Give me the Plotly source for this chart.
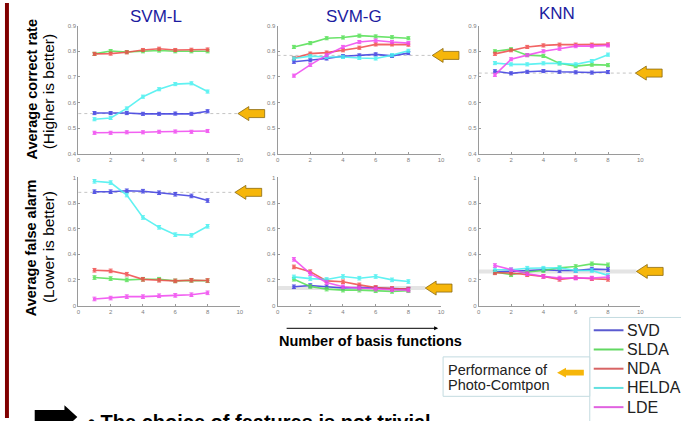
import plotly.graph_objects as go

W, H = 681, 421

x_vals = [1, 2, 3, 4, 5, 6, 7, 8]
methods = ["SVD", "SLDA", "NDA", "HELDA", "LDE"]
colors = {"SVD": "#3c3ce0", "SLDA": "#52e052", "NDA": "#f04a4a",
          "HELDA": "#45f0f0", "LDE": "#f046f0"}
legend_colors = {"SVD": "#5a5ad0", "SLDA": "#62d862", "NDA": "#d86464",
                 "HELDA": "#62e0e0", "LDE": "#e062e0"}

classifiers = ["SVM-L", "SVM-G", "KNN"]

# Average correct rate (top row)
svml_correct = {
    "SVD":   [0.559, 0.559, 0.559, 0.556, 0.556, 0.557, 0.556, 0.566],
    "SLDA":  [0.790, 0.801, 0.797, 0.800, 0.803, 0.800, 0.800, 0.800],
    "NDA":   [0.790, 0.791, 0.796, 0.805, 0.810, 0.805, 0.806, 0.807],
    "HELDA": [0.535, 0.540, 0.577, 0.623, 0.652, 0.672, 0.675, 0.643],
    "LDE":   [0.482, 0.482, 0.484, 0.484, 0.486, 0.487, 0.486, 0.489],
}
svmg_correct = {
    "SVD":   [0.759, 0.765, 0.772, 0.781, 0.784, 0.788, 0.782, 0.793],
    "SLDA":  [0.817, 0.832, 0.851, 0.854, 0.861, 0.858, 0.855, 0.851],
    "NDA":   [0.774, 0.791, 0.795, 0.804, 0.814, 0.827, 0.827, 0.826],
    "HELDA": [0.772, 0.781, 0.778, 0.778, 0.774, 0.772, 0.785, 0.802],
    "LDE":   [0.705, 0.747, 0.785, 0.817, 0.836, 0.842, 0.836, 0.832],
}
knn_correct = {
    "SVD":   [0.722, 0.714, 0.720, 0.723, 0.720, 0.718, 0.717, 0.719],
    "SLDA":  [0.800, 0.808, 0.785, 0.782, 0.753, 0.742, 0.748, 0.746],
    "NDA":   [0.790, 0.804, 0.817, 0.823, 0.826, 0.826, 0.826, 0.827],
    "HELDA": [0.754, 0.749, 0.749, 0.753, 0.753, 0.749, 0.762, 0.787],
    "LDE":   [0.708, 0.769, 0.785, 0.800, 0.810, 0.820, 0.820, 0.823],
}

# Average false alarm (bottom row)
svml_false = {
    "SVD":   [0.889, 0.889, 0.896, 0.893, 0.881, 0.869, 0.856, 0.820],
    "SLDA":  [0.219, 0.211, 0.201, 0.206, 0.206, 0.193, 0.197, 0.194],
    "NDA":   [0.276, 0.271, 0.245, 0.205, 0.198, 0.193, 0.198, 0.196],
    "HELDA": [0.970, 0.960, 0.863, 0.688, 0.611, 0.554, 0.549, 0.619],
    "LDE":   [0.052, 0.059, 0.070, 0.070, 0.077, 0.080, 0.085, 0.100],
}
svmg_false = {
    "SVD":   [0.147, 0.157, 0.147, 0.137, 0.142, 0.137, 0.129, 0.129],
    "SLDA":  [0.206, 0.149, 0.129, 0.121, 0.121, 0.116, 0.111, 0.116],
    "NDA":   [0.302, 0.265, 0.193, 0.186, 0.162, 0.142, 0.134, 0.129],
    "HELDA": [0.224, 0.211, 0.204, 0.227, 0.214, 0.227, 0.201, 0.188],
    "LDE":   [0.361, 0.250, 0.180, 0.147, 0.137, 0.129, 0.124, 0.121],
}
knn_false = {
    "SVD":   [0.262, 0.269, 0.274, 0.280, 0.274, 0.274, 0.285, 0.282],
    "SLDA":  [0.262, 0.241, 0.262, 0.274, 0.295, 0.305, 0.326, 0.318],
    "NDA":   [0.256, 0.254, 0.241, 0.228, 0.205, 0.218, 0.210, 0.205],
    "HELDA": [0.280, 0.280, 0.292, 0.292, 0.295, 0.274, 0.274, 0.236],
    "LDE":   [0.313, 0.280, 0.249, 0.228, 0.215, 0.215, 0.215, 0.223],
}

# Photo-Compton reference performance per panel
photo_compton_correct = [0.557, 0.784, 0.715]
photo_compton_false = [0.884, 0.137, 0.267]

x_ticks = [0, 2, 4, 6, 8, 10]
top_y_ticks = [0.4, 0.5, 0.6, 0.7, 0.8, 0.9]
bottom_y_ticks = [0, 0.2, 0.4, 0.6, 0.8, 1]
bottom_y_ticktext = ["0", "0.2", "0.4", "0.6", "0.8", "1"]

# ---------------------------------------------------------------
def px(x):
    return x / W


def py(y):
    return 1 - y / H


col_px = [(77, 240), (278, 443), (481, 644)]
row_px = [(23, 153), (177, 307)]

panels = [svml_correct, svmg_correct, knn_correct,
          svml_false, svmg_false, knn_false]
refs = photo_compton_correct + photo_compton_false

fig = go.Figure()
layout = dict()

FONT = "Liberation Sans"
axis_common = dict(showgrid=False, zeroline=False, showline=True,
                   linecolor="#9a9a9a", linewidth=1, ticks="inside",
                   ticklen=2, tickcolor="#9a9a9a",
                   tickfont=dict(size=6, color="#808080", family=FONT))

for i, panel in enumerate(panels):
    r, c = divmod(i, 3)
    n = i + 1
    xa = "x" if n == 1 else f"x{n}"
    ya = "y" if n == 1 else f"y{n}"
    xk = "xaxis" if n == 1 else f"xaxis{n}"
    yk = "yaxis" if n == 1 else f"yaxis{n}"
    x0p, x1p = col_px[c]
    y0p, y1p = row_px[r]
    layout[xk] = dict(axis_common, domain=[px(x0p), px(x1p)], anchor=ya,
                      range=[0, 10], tickvals=x_ticks)
    if r == 0:
        layout[yk] = dict(axis_common, domain=[py(y1p), py(y0p)], anchor=xa,
                          range=[0.4, 0.9], tickvals=top_y_ticks,
                          tickformat=".1f")
        err = 0.006
    else:
        layout[yk] = dict(axis_common, domain=[py(y1p), py(y0p)], anchor=xa,
                          range=[0, 1], tickvals=bottom_y_ticks,
                          ticktext=bottom_y_ticktext)
        err = 0.014
    for m in methods:
        fig.add_trace(go.Scatter(
            x=x_vals, y=panel[m], xaxis=xa, yaxis=ya, mode="lines+markers",
            line=dict(color=colors[m], width=1.6),
            marker=dict(size=3.5, color=colors[m]),
            error_y=dict(type="constant", value=err, thickness=1, width=2,
                         color=colors[m]),
            opacity=0.85, showlegend=False, name=m, cliponaxis=False))

shapes = []
annotations = []

# reference lines and orange arrows
arrow_tips = [238, 434, 639, 235, 427, 640]
ref_styles = ["dot", "dot", "dot", "dot", "solid", "solid"]
for i, v in enumerate(refs):
    r, c = divmod(i, 3)
    n = i + 1
    ya = "y" if n == 1 else f"y{n}"
    x0p = col_px[c][0]
    tip = arrow_tips[i]
    if ref_styles[i] == "dot":
        line = dict(color="#c4c4c4", width=1, dash="dot")
    else:
        line = dict(color="#e4e4e4", width=4)
    shapes.append(dict(type="line", xref="paper", yref=ya, x0=px(x0p),
                       x1=px(tip), y0=v, y1=v, line=line, layer="below"))
    L, hl, hh, bh = 27, 11, 7, 4
    pts = [(tip, 0), (tip + hl, hh), (tip + hl, bh), (tip + L, bh),
           (tip + L, -bh), (tip + hl, -bh), (tip + hl, -hh)]
    path = "M " + " L ".join(f"{px(a):.5f},{b}" for a, b in pts) + " Z"
    shapes.append(dict(type="path", xref="paper", yref=ya, ysizemode="pixel",
                       yanchor=v, path=path, fillcolor="#f6b60a",
                       line=dict(color="#8a6a10", width=0.8)))

# Titles
title_pos = [(155, 14), (355, 14), (560, 11)]
for name, (tx, ty) in zip(classifiers, title_pos):
    annotations.append(dict(text=name, x=px(tx), y=py(ty), xref="paper",
                            yref="paper", showarrow=False, xanchor="center",
                            yanchor="middle",
                            font=dict(size=17, color="#1c1ca0", family=FONT)))

# Y labels
for text, x, y, bold in [("Average correct rate", 30, 87, True),
                         ("(Higher is better)", 47, 90, False),
                         ("Average false alarm", 30, 248, True),
                         ("(Lower is better)", 47, 248, False)]:
    annotations.append(dict(text=f"<b>{text}</b>" if bold else text,
                            x=px(x), y=py(y), xref="paper", yref="paper",
                            textangle=-90, showarrow=False, xanchor="center",
                            yanchor="middle",
                            font=dict(size=14.5 if bold else 15.5,
                                      color="black", family=FONT)))

# Number of basis functions
annotations.append(dict(text="<b>Number of basis functions</b>", x=px(372),
                        y=py(343), xref="paper", yref="paper",
                        showarrow=False, xanchor="center", yanchor="middle",
                        font=dict(size=14.5, color="black", family=FONT)))
annotations.append(dict(x=px(440), y=py(330), ax=-153, ay=0,
                        xref="paper", yref="paper", axref="pixel",
                        ayref="pixel", text="", showarrow=True, arrowhead=2,
                        arrowsize=0.8, arrowwidth=1, arrowcolor="black"))

# Legend box
shapes.append(dict(type="rect", xref="paper", yref="paper", x0=px(593),
                   x1=px(690), y0=py(430), y1=py(319),
                   line=dict(color="#c3dbe0", width=1), fillcolor="white"))
shapes.append(dict(type="rect", xref="paper", yref="paper", x0=px(445),
                   x1=px(593), y0=py(399), y1=py(359),
                   line=dict(color="#c3dbe0", width=1), fillcolor="white"))
for k, m in enumerate(methods):
    yy = 332 + 19.5 * k
    shapes.append(dict(type="line", xref="paper", yref="paper", x0=px(597),
                       x1=px(627), y0=py(yy), y1=py(yy),
                       line=dict(color=legend_colors[m], width=2)))
    annotations.append(dict(text=m, x=px(629), y=py(yy), xref="paper",
                            yref="paper", showarrow=False, xanchor="left",
                            yanchor="middle",
                            font=dict(size=16, color="#222222", family=FONT)))

for text, yy in [("Performance of", 372), ("Photo-Comtpon", 388)]:
    annotations.append(dict(text=text, x=px(448), y=py(yy), xref="paper",
                            yref="paper", showarrow=False, xanchor="left",
                            yanchor="middle",
                            font=dict(size=14.5, color="#222222",
                                      family=FONT)))
# small orange arrow in the note box
tip, yc = 560, 375
pts = [(tip, 0), (tip + 9, 5), (tip + 9, 3), (tip + 27, 3), (tip + 27, -3),
       (tip + 9, -3), (tip + 9, -5)]
path = "M " + " L ".join(f"{px(a):.5f},{py(yc + b):.5f}" for a, b in pts) + " Z"
shapes.append(dict(type="path", xref="paper", yref="paper", path=path,
                   fillcolor="#f6b60a", line=dict(width=0)))

# Left dark red bar
shapes.append(dict(type="rect", xref="paper", yref="paper", x0=px(3),
                   x1=px(7), y0=0, y1=1, fillcolor="#800000",
                   line=dict(width=0)))

# Bottom black arrow and bullet text
pts = [(33, 413), (63, 413), (63, 408), (76, 420), (63, 432), (63, 427),
       (33, 427)]
path = "M " + " L ".join(f"{px(a):.5f},{py(b):.5f}" for a, b in pts) + " Z"
shapes.append(dict(type="path", xref="paper", yref="paper", path=path,
                   fillcolor="black", line=dict(width=0)))
annotations.append(dict(text="<b>• The choice of features is not trivial</b>",
                        x=px(85), y=py(425), xref="paper", yref="paper",
                        showarrow=False, xanchor="left", yanchor="middle",
                        font=dict(size=20, color="black", family=FONT)))

fig.update_layout(**layout)
fig.update_layout(width=W, height=H, margin=dict(l=0, r=0, t=0, b=0),
                  paper_bgcolor="white", plot_bgcolor="white",
                  showlegend=False, shapes=shapes, annotations=annotations)

fig.write_html("out.html", config={"displayModeBar": False},
               post_script="document.body.style.margin='0';"
                           "document.body.style.overflow='hidden';")
